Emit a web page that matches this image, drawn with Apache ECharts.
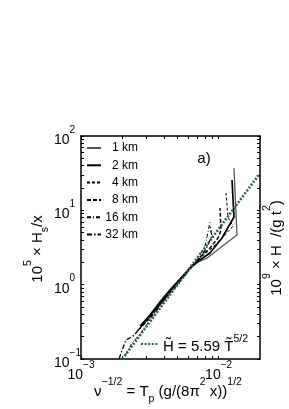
<!DOCTYPE html>
<html><head><meta charset="utf-8">
<script src="https://cdn.jsdelivr.net/npm/echarts@6/dist/echarts.min.js"></script>
<style>html,body{margin:0;padding:0;background:#fff}#c{width:289px;height:409px}</style>
</head><body><div id="c"></div>
<script>
// ---- data ----
const seriesNames = ['1 km', '2 km', '4 km', '8 km', '16 km', '32 km'];
const km1X  = [0.00273, 0.00317, 0.00375, 0.00443, 0.00524, 0.00620, 0.00733, 0.00823, 0.01024, 0.01360, 0.01294];
const km1Y  = [0.269, 0.378, 0.548, 0.795, 1.153, 1.672, 2.078, 2.280, 3.109, 4.652, 37.11];
const km2X  = [0.00269, 0.00317, 0.00375, 0.00443, 0.00524, 0.00620, 0.00697, 0.00866, 0.01059, 0.01294, 0.01252];
const km2Y  = [0.277, 0.390, 0.583, 0.846, 1.190, 1.672, 2.015, 2.663, 4.239, 8.125, 25.57];
const km4X  = [0.00269, 0.00317, 0.00375, 0.00443, 0.00524, 0.00620, 0.00733, 0.00895, 0.01094, 0.01273, 0.01170, 0.01132];
const km4Y  = [0.261, 0.378, 0.566, 0.820, 1.153, 1.672, 2.280, 3.109, 4.509, 6.146, 8.125, 17.09];
const km8X  = [0.00260, 0.00317, 0.00375, 0.00443, 0.00524, 0.00620, 0.00733, 0.00866, 0.00990, 0.01041, 0.01024];
const km8Y  = [0.245, 0.355, 0.548, 0.795, 1.190, 1.672, 2.352, 3.109, 4.239, 5.430, 10.74];
const km16X = [0.00209, 0.00235, 0.00269, 0.00317, 0.00375, 0.00443, 0.00524, 0.00620, 0.00708, 0.00796, 0.00838, 0.00866];
const km16Y = [0.113, 0.164, 0.216, 0.334, 0.515, 0.747, 1.084, 1.572, 2.280, 3.307, 5.104, 6.959];
const km32X = [0.00189, 0.00199, 0.00212, 0.00239, 0.00282, 0.00317, 0.00375, 0.00443, 0.00524, 0.00620, 0.00733, 0.00823, 0.00895, 0.00866];
const km32Y = [0.100, 0.132, 0.180, 0.203, 0.286, 0.366, 0.531, 0.795, 1.118, 1.672, 2.280, 3.207, 4.509, 6.146];
const refX  = [0.002, 0.02];
const refY  = [0.1, 31.6];
// tick positions (major + minor) on the log axes
const xTickVals = [0.001, 0.002, 0.003, 0.004, 0.005, 0.006, 0.007, 0.008, 0.009, 0.01, 0.02];
const yTickVals = [0.1, 0.2, 0.3, 0.4, 0.5, 0.6, 0.7, 0.8, 0.9, 1, 2, 3, 4, 5, 6, 7, 8, 9, 10,
                   20, 30, 40, 50, 60, 70, 80, 90, 100];

const FONT = 'Liberation Sans';
const zip = (xs, ys) => xs.map((x, i) => [x, ys[i]]);
function powLabel(v) {
  const e = Math.log10(v), r = Math.round(e);
  if (Math.abs(e - r) > 1e-6) return '';
  return '{b|10}{s|' + (r < 0 ? '\u2212' + (-r) : r) + '}';
}
const labRich = {
  b: {fontSize: 14, fontFamily: FONT, color: '#000', lineHeight: 22, verticalAlign: 'bottom'},
  s: {fontSize: 10, fontFamily: FONT, color: '#000', lineHeight: 22, verticalAlign: 'top'}
};
// rich styles for titles: all bottom-aligned, raised by padding
const titleRich = {
  b: {fontSize: 15, fontFamily: FONT, fill: '#000', verticalAlign: 'bottom', padding: [0, 0, 6, 0]},
  s: {fontSize: 10.5, fontFamily: FONT, fill: '#000', verticalAlign: 'bottom', padding: [0, 0, 17, 0]},
  u: {fontSize: 10.5, fontFamily: FONT, fill: '#000', verticalAlign: 'bottom', padding: [0, 0, 0, 0]}
};
const styles = [
  {color: '#555', width: 1.3, type: 'solid'},
  {color: '#000', width: 1.7, type: 'solid'},
  {color: '#000', width: 1, type: [3, 2]},
  {color: '#000', width: 1.5, type: [4, 2]},
  {color: '#000', width: 1, type: [4, 2, 1, 2]},
  {color: '#000', width: 1.3, type: [5, 2, 1.5, 2]}
];
const allX = [km1X, km2X, km4X, km8X, km16X, km32X];
const allY = [km1Y, km2Y, km4Y, km8Y, km16Y, km32Y];

const series = seriesNames.map((n, i) => ({
  name: n, type: 'line', xAxisIndex: 0, yAxisIndex: 0,
  data: zip(allX[i], allY[i]), symbol: 'none', animation: false,
  lineStyle: styles[i], itemStyle: {color: styles[i].color}
}));
series.push({
  name: 'ref', type: 'line', data: zip(refX, refY), symbol: 'none', animation: false,
  lineStyle: {color: '#2e5e5e', width: 2.6, type: [2, 1.6]}, itemStyle: {color: '#2e5e5e'}, z: 5
});

function axis(extra, ticks) {
  return Object.assign({
    type: 'log', logBase: 10,
    axisLine: {show: true, lineStyle: {color: '#000', width: 1.5}},
    axisTick: {show: true, inside: true, length: 3, customValues: ticks, lineStyle: {color: '#000', width: 1}},
    splitLine: {show: false}, minorTick: {show: false}
  }, extra);
}

const chart = echarts.init(document.getElementById('c'), null, {renderer: 'canvas'});
chart.setOption({
  animation: false,
  backgroundColor: '#fff',
  grid: {left: 81, right: 29, top: 136, bottom: 50, containLabel: false},
  xAxis: [
    axis({position: 'bottom', min: 0.001, max: 0.02,
      axisLabel: {show: true, margin: 1, formatter: powLabel, rich: labRich, showMaxLabel: false}}, xTickVals),
    axis({position: 'top', min: 0.001, max: 0.02, axisLabel: {show: false}}, xTickVals)
  ],
  yAxis: [
    axis({position: 'left', min: 0.1, max: 100,
      axisLabel: {show: true, margin: 27, align: 'left', formatter: powLabel, rich: labRich}}, yTickVals),
    axis({position: 'right', min: 0.1, max: 100, axisLabel: {show: false}}, yTickVals)
  ],
  legend: [
    {data: seriesNames, orient: 'vertical', left: 86, top: 142, padding: 0, itemWidth: 14, itemHeight: 14, itemGap: 5.3,
     itemStyle: {opacity: 0}, selectedMode: false,
     formatter: n => '{r|' + n + '}',
     textStyle: {rich: {r: {width: 32, align: 'right', fontSize: 12, fontFamily: FONT, color: '#000', lineHeight: 14}}}},
    {data: ['ref'], left: 140, top: 334, padding: 0, itemWidth: 17, itemHeight: 14, itemGap: 3, selectedMode: false,
     itemStyle: {opacity: 0},
     formatter: () => '{b|H\u0303 = 5.59 T\u0303}{s|5/2}',
     textStyle: {rich: {
       b: {fontSize: 15, fontFamily: FONT, color: '#000', lineHeight: 20, verticalAlign: 'bottom'},
       s: {fontSize: 10.5, fontFamily: FONT, color: '#000', lineHeight: 20, verticalAlign: 'top'}}}}
  ],
  graphic: [
    {type: 'text', x: 204, y: 159, style: {text: 'a)', fontSize: 15, fontFamily: FONT, fill: '#000', align: 'center', verticalAlign: 'middle'}},
    {type: 'text', x: 168, y: 391, style: {
      text: '{b|\u03bd}{s|\u22121/2}{b| = T}{u|p}{b| (g/(8\u03c0}{s|2}{b| x))}{s|1/2}',
      align: 'center', verticalAlign: 'middle', rich: titleRich}},
    {type: 'text', x: 37, y: 249, rotation: Math.PI / 2, style: {
      text: '{b|10}{s|5}{b| \u00d7 H}{u|s}{b|/x}',
      align: 'center', verticalAlign: 'middle', rich: titleRich}},
    {type: 'text', x: 276, y: 248, rotation: Math.PI / 2, style: {
      text: '{b|10}{s|9}{b| \u00d7 H  /(g t}{s|2}{b|)}',
      align: 'center', verticalAlign: 'middle', rich: titleRich}}
  ],
  series: series
});
</script></body></html>
